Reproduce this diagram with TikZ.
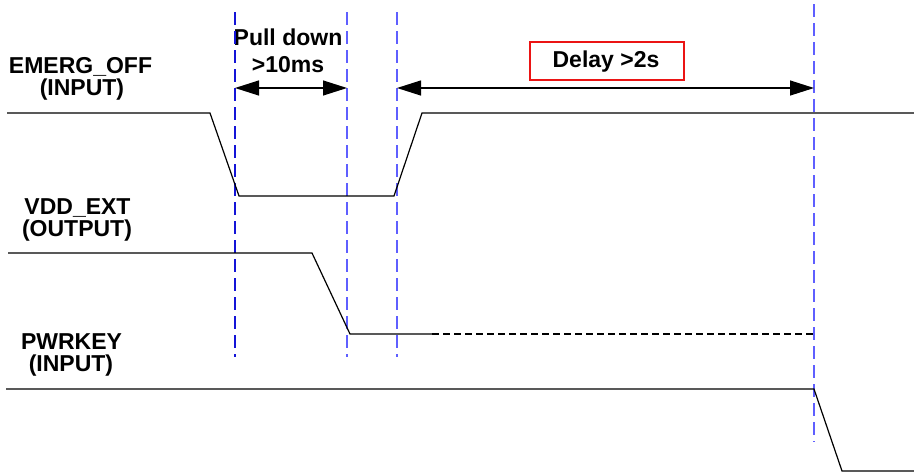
\documentclass[tikz,border=0pt]{standalone}
\usepackage{fontspec}
\setmainfont{Liberation Sans}
\usetikzlibrary{arrows.meta}
\definecolor{guideA}{RGB}{20,20,215}
\definecolor{guideB}{RGB}{95,95,255}
\definecolor{boxred}{RGB}{235,20,20}
\tikzset{
  sig/.style={line width=1.2pt, black, line join=miter},
  sigdash/.style={line width=1.2pt, black, dash pattern=on 7pt off 4pt},
  guide/.style={line width=1.5pt, dash pattern=on 13pt off 6pt},
  lbl/.style={font=\fontsize{23}{25}\selectfont\bfseries, inner sep=0pt, anchor=base},
  dim/.style={line width=1.2pt, {Triangle[length=24pt,width=15pt]}-{Triangle[length=24pt,width=15pt]}},
  delaybox/.style={draw=boxred, line width=2.5pt, minimum width=154pt, minimum height=38pt, inner sep=0pt}
}
\begin{document}
\begin{tikzpicture}[x=1pt,y=-1pt]
\useasboundingbox (0,0) rectangle (914,472);
% signal labels
\node[lbl] (emerg) at (80.5,73) {EMERG\_OFF};
\node[lbl] (emergin) at (82,95) {(INPUT)};
\node[lbl] (vdd) at (77.5,214) {VDD\_EXT};
\node[lbl] (vddout) at (77,236) {(OUTPUT)};
\node[lbl] (pwr) at (71.5,349) {PWRKEY};
\node[lbl] (pwrin) at (71,371) {(INPUT)};
\node[lbl] (pull) at (288,45.5) {Pull down};
\node[lbl] (ten) at (288,72.5) {>10ms};
\node[delaybox] (delay) at (607,61) {};
\node[lbl] (delaytxt) at (606,67.5) {Delay >2s};
% guide lines
\coordinate (g1t) at (235,12);  \coordinate (g1b) at (235,357);
\coordinate (g2t) at (347,12);  \coordinate (g2b) at (347,357);
\coordinate (g3t) at (397,12);  \coordinate (g3b) at (397,357);
\coordinate (g4t) at (814,4);   \coordinate (g4b) at (814,442);
\draw[guide, guideA] (g1t) -- (g1b);
\draw[guide, guideB] (g2t) -- (g2b);
\draw[guide, guideB] (g3t) -- (g3b);
\draw[guide, guideB] (g4t) -- (g4b);
% dimension arrows
\coordinate (a1) at (235,88); \coordinate (a2) at (347,88);
\coordinate (a3) at (397,88); \coordinate (a4) at (814,88);
\draw[dim] (a1) -- (a2);
\draw[dim] (a3) -- (a4);
% EMERG_OFF waveform
\coordinate (e0) at (7,113); \coordinate (e1) at (210,113);
\coordinate (e2) at (239,196); \coordinate (e3) at (394,196);
\coordinate (e4) at (422,113); \coordinate (e5) at (914,113);
\draw[sig] (e0) -- (e1) -- (e2) -- (e3) -- (e4) -- (e5);
% VDD_EXT waveform
\coordinate (v0) at (8,253); \coordinate (v1) at (312,253);
\coordinate (v2) at (350,334); \coordinate (v3) at (432,334);
\coordinate (v4) at (815,334);
\draw[sig] (v0) -- (v1) -- (v2) -- (v3);
\draw[sigdash] (v3) -- (v4);
% PWRKEY waveform
\coordinate (p0) at (6,389); \coordinate (p1) at (814,389);
\coordinate (p2) at (842,471); \coordinate (p3) at (914,471);
\draw[sig] (p0) -- (p1) -- (p2) -- (p3);
\end{tikzpicture}
\end{document}
